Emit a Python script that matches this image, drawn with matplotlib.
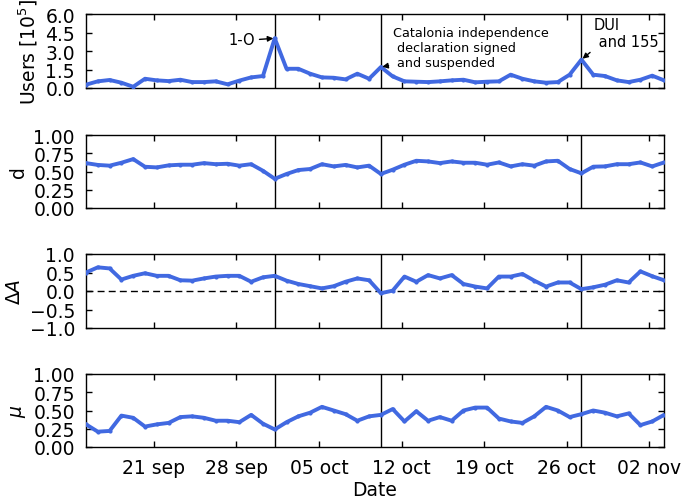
import matplotlib
matplotlib.use("Agg")
import matplotlib.pyplot as plt
import pandas as pd
import numpy as np

# ---- data ----
dates = pd.date_range("2017-09-15 06:00", periods=50, freq="D")

users = [0.27, 0.54, 0.65, 0.43, 0.10, 0.75, 0.62, 0.56, 0.67, 0.48,
         0.48, 0.54, 0.30, 0.60, 0.86, 0.97, 4.03, 1.56, 1.56, 1.16,
         0.86, 0.83, 0.70, 1.16, 0.75, 1.70, 0.94, 0.54, 0.51, 0.48,
         0.54, 0.62, 0.67, 0.46, 0.51, 0.54, 1.08, 0.75, 0.54, 0.43,
         0.48, 1.08, 2.30, 1.08, 0.97, 0.62, 0.48, 0.67, 1.00, 0.62]

d_vals = [0.615, 0.59, 0.58, 0.62, 0.67, 0.565, 0.556, 0.584, 0.593, 0.593,
          0.615, 0.60, 0.606, 0.58, 0.60, 0.51, 0.40, 0.466, 0.52, 0.534,
          0.60, 0.57, 0.59, 0.556, 0.58, 0.466, 0.525, 0.593, 0.647, 0.638,
          0.615, 0.638, 0.62, 0.62, 0.593, 0.624, 0.57, 0.60, 0.58, 0.638,
          0.647, 0.534, 0.475, 0.566, 0.57, 0.60, 0.60, 0.624, 0.57, 0.624]

delta_a = [0.50, 0.64, 0.61, 0.31, 0.41, 0.48, 0.41, 0.41, 0.29, 0.28,
           0.34, 0.39, 0.41, 0.41, 0.25, 0.37, 0.41, 0.28, 0.19, 0.13,
           0.07, 0.13, 0.25, 0.34, 0.29, -0.06, 0.01, 0.39, 0.25, 0.43,
           0.34, 0.43, 0.19, 0.12, 0.07, 0.39, 0.39, 0.46, 0.28, 0.12,
           0.23, 0.23, 0.05, 0.10, 0.17, 0.29, 0.23, 0.53, 0.40, 0.29]

mu = [0.31, 0.21, 0.22, 0.43, 0.40, 0.28, 0.31, 0.33, 0.41, 0.42,
      0.40, 0.36, 0.36, 0.34, 0.44, 0.32, 0.24, 0.34, 0.42, 0.47,
      0.55, 0.50, 0.45, 0.36, 0.42, 0.44, 0.52, 0.35, 0.49, 0.36,
      0.41, 0.36, 0.50, 0.54, 0.54, 0.39, 0.35, 0.33, 0.42, 0.55,
      0.50, 0.41, 0.45, 0.50, 0.47, 0.42, 0.46, 0.30, 0.35, 0.44]

event_idx = [16, 25, 42]
event_labels = ["1-O",
                "Catalonia independence\n declaration signed\n and suspended",
                "DUI\n and 155"]

tick_dates = pd.to_datetime(["2017-09-21", "2017-09-28", "2017-10-05", "2017-10-12",
                             "2017-10-19", "2017-10-26", "2017-11-02"])
tick_labels = ["21 sep", "28 sep", "05 oct", "12 oct", "19 oct", "26 oct", "02 nov"]

panels = [
    (users, r"Users [$10^5$]", (0, 6), [0, 1.5, 3.0, 4.5, 6.0], "%.1f"),
    (d_vals, "d", (0, 1), [0, 0.25, 0.5, 0.75, 1.0], "%.2f"),
    (delta_a, r"$\Delta A$", (-1, 1), [-1.0, -0.5, 0.0, 0.5, 1.0], "%.1f"),
    (mu, r"$\mu$", (0, 1), [0, 0.25, 0.5, 0.75, 1.0], "%.2f"),
]

# ---- figure ----
W, H = 685, 502
fig = plt.figure(figsize=(W / 100, H / 100), dpi=100)
left, right = 86 / W, 664 / W
tops = [15, 136, 255, 375]
bots = [89, 209, 329, 448]
color = "#4169E1"

axes = []
for k, (vals, lab, ylim, yt, fmt) in enumerate(panels):
    ax = fig.add_axes([left, 1 - bots[k] / H, right - left, (bots[k] - tops[k]) / H])
    ax.plot(dates, vals, color=color, lw=2.8, marker=".", markersize=4, zorder=3)
    ax.set_xlim(dates[0], dates[-1])
    ax.set_ylim(*ylim)
    ax.set_yticks(yt)
    ax.set_yticklabels([(fmt % v).replace("-", "\u2212") for v in yt])
    ax.set_xticks(tick_dates)
    if k == 3:
        ax.set_xticklabels(tick_labels)
        ax.set_xlabel("Date", fontsize=13.5, labelpad=2)
    else:
        ax.set_xticklabels([])
    ax.set_ylabel(lab, fontsize=13.5, labelpad=4)
    ax.tick_params(direction="in", top=True, right=True, length=4, width=1,
                   labelsize=13.5)
    ax.tick_params(axis="x", pad=8)
    ax.tick_params(axis="y", pad=8)
    for s in ax.spines.values():
        s.set_linewidth(1)
    for i in event_idx:
        ax.axvline(dates[i], color="black", lw=1, zorder=2)
    if k == 2:
        ax.axhline(0, color="black", lw=1, ls=(0, (5, 3)), zorder=2)
    axes.append(ax)

ax0 = axes[0]
ax0.annotate(event_labels[0], xy=(dates[event_idx[0]], users[event_idx[0]]),
             xytext=(-14, -1), textcoords="offset points", ha="right", va="center",
             fontsize=10.5,
             arrowprops=dict(arrowstyle="-|>", color="black", lw=1, relpos=(1, 0.5),
                             shrinkA=1, shrinkB=1, mutation_scale=8))
ax0.annotate(event_labels[1], xy=(dates[event_idx[1]], users[event_idx[1]]),
             xytext=(8.5, -1.5), textcoords="offset points", ha="left", va="bottom",
             fontsize=9.2,
             arrowprops=dict(arrowstyle="-|>", color="black", lw=1, relpos=(0, 0.1),
                             shrinkA=1, shrinkB=1, mutation_scale=8))
ax0.annotate(event_labels[2], xy=(dates[event_idx[2]], users[event_idx[2]]),
             xytext=(9, 7.5), textcoords="offset points", ha="left", va="bottom",
             fontsize=10.5,
             arrowprops=dict(arrowstyle="-|>", color="black", lw=1, relpos=(0, 0),
                             shrinkA=1, shrinkB=1, mutation_scale=8))

fig.savefig("out.png", dpi=100)
